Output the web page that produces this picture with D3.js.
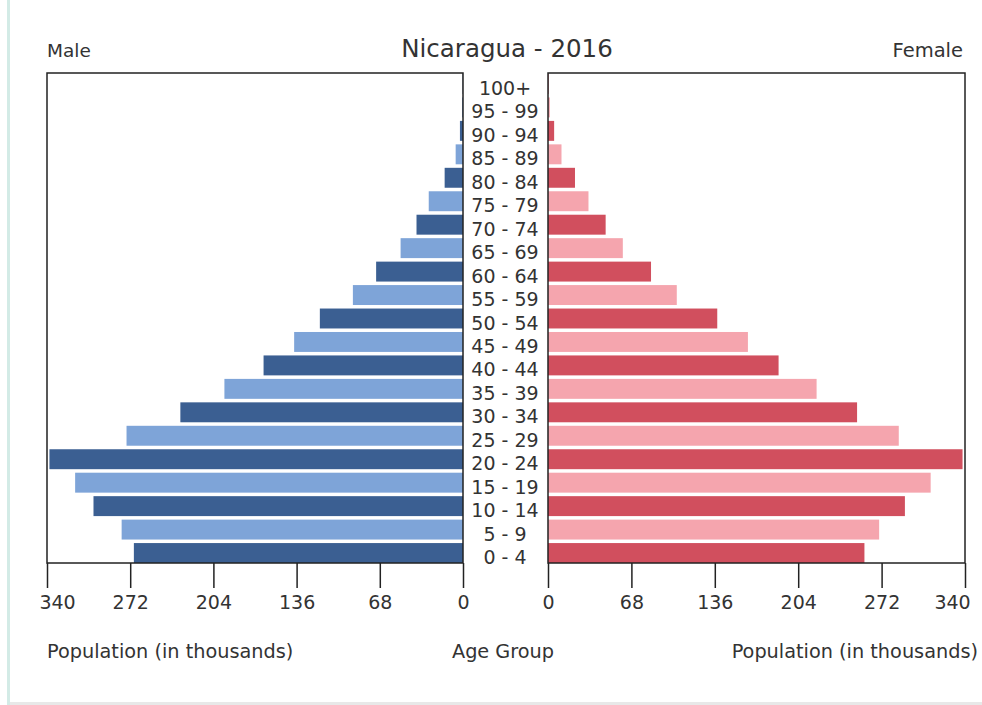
<!DOCTYPE html>
<html>
<head>
<meta charset="utf-8">
<script src="https://cdn.jsdelivr.net/npm/d3@7/dist/d3.min.js"></script>
<style>
  html, body { margin: 0; padding: 0; background: #fff; }
  svg { display: block; font-family: "DejaVu Sans", sans-serif; }
</style>
</head>
<body>
<svg id="chart" width="982" height="705"></svg>
<script>
const title = "Nicaragua - 2016";
const ageGroups = ["0 - 4","5 - 9","10 - 14","15 - 19","20 - 24","25 - 29","30 - 34","35 - 39","40 - 44","45 - 49","50 - 54","55 - 59","60 - 64","65 - 69","70 - 74","75 - 79","80 - 84","85 - 89","90 - 94","95 - 99","100+"];
const male   = [269, 279, 302, 317, 338, 275, 231, 195, 163, 138, 117, 90, 71, 51, 38, 28, 15, 6, 2.5, 0.8, 0.3];
const female = [258, 270, 291, 312, 338, 286, 252, 219, 188, 163, 138, 105, 84, 61, 47, 33, 22, 11, 5, 1.5, 0.5];
const tickValues = [0, 68, 136, 204, 272, 340];

(function () {
const svg = d3.select("#chart");
const W = 982, H = 705;
const yTop = 73, yBot = 563;
const L0 = 47, L1 = 463, R0 = 548, R1 = 965;
const fontSize = 19;
const textColor = "#333";

// page decorations
svg.append("rect").attr("x", 7).attr("y", 0).attr("width", 3).attr("height", H).attr("fill", "#d3ebe6");
svg.append("rect").attr("x", 10).attr("y", 702).attr("width", W - 10).attr("height", 3).attr("fill", "#e8e8e8");

const y = d3.scaleBand().domain(ageGroups).range([yBot, yTop + 1]).paddingInner(0.15).paddingOuter(0);
const xL = d3.scaleLinear().domain([0, 340]).range([L1, L0]);
const xR = d3.scaleLinear().domain([0, 340]).range([R0, R1]);

const maleColors = ["#3b5f92", "#7ea4d8"];
const femaleColors = ["#d14f5e", "#f5a5ae"];

// bars
svg.append("g").selectAll("rect").data(male).join("rect")
  .attr("x", d => xL(d)).attr("width", d => xL(0) - xL(d))
  .attr("y", (d, i) => y(ageGroups[i])).attr("height", y.bandwidth())
  .attr("fill", (d, i) => maleColors[i % 2]);
svg.append("g").selectAll("rect").data(female).join("rect")
  .attr("x", xR(0)).attr("width", d => xR(d) - xR(0))
  .attr("y", (d, i) => y(ageGroups[i])).attr("height", y.bandwidth())
  .attr("fill", (d, i) => femaleColors[i % 2]);

// frames
svg.append("rect").attr("x", L0).attr("y", yTop).attr("width", L1 - L0).attr("height", yBot - yTop)
  .attr("fill", "none").attr("stroke", "#222").attr("stroke-width", 1.5);
svg.append("rect").attr("x", R0).attr("y", yTop).attr("width", R1 - R0).attr("height", yBot - yTop)
  .attr("fill", "none").attr("stroke", "#222").attr("stroke-width", 1.5);

// axes
function styleAxis(endShift) {
  return function (g) {
    g.select(".domain").remove();
    g.selectAll(".tick line").attr("stroke", "#222").attr("stroke-width", 1.5);
    g.selectAll(".tick text").attr("fill", textColor).attr("font-size", fontSize)
      .attr("font-family", "DejaVu Sans").attr("dy", null).attr("y", 46)
      .attr("x", d => d === 340 ? endShift : 0);
  };
}
svg.append("g").attr("transform", `translate(0,${yBot})`)
  .call(d3.axisBottom(xL).tickValues(tickValues).tickSize(25).tickFormat(d3.format("d")))
  .call(styleAxis(10));
svg.append("g").attr("transform", `translate(0,${yBot})`)
  .call(d3.axisBottom(xR).tickValues(tickValues).tickSize(25).tickFormat(d3.format("d")))
  .call(styleAxis(-13));

// age labels
svg.append("g").selectAll("text").data(ageGroups).join("text")
  .attr("x", 505).attr("y", d => y(d) + y.bandwidth() / 2 + 11)
  .attr("text-anchor", "middle").attr("font-size", fontSize).attr("fill", textColor)
  .text(d => d);

// titles
svg.append("text").attr("x", 507).attr("y", 57).attr("text-anchor", "middle")
  .attr("font-size", 24.5).attr("fill", textColor).text(title);
svg.append("text").attr("x", 47).attr("y", 57).attr("font-size", 18.5).attr("fill", textColor).text("Male");
svg.append("text").attr("x", 963).attr("y", 57).attr("text-anchor", "end").attr("font-size", 19.5).attr("fill", textColor).text("Female");

svg.append("text").attr("x", 47).attr("y", 658).attr("font-size", 19.3).attr("fill", textColor).text("Population (in thousands)");
svg.append("text").attr("x", 503).attr("y", 658).attr("text-anchor", "middle").attr("font-size", 19.3).attr("fill", textColor).text("Age Group");
svg.append("text").attr("x", 978).attr("y", 658).attr("text-anchor", "end").attr("font-size", 19.3).attr("fill", textColor).text("Population (in thousands)");
})();
</script>
</body>
</html>
